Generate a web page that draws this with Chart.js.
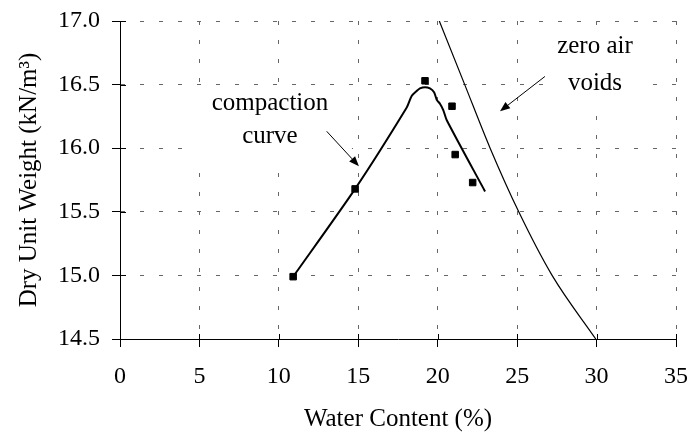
<!DOCTYPE html>
<html><head><meta charset="utf-8">
<script src="https://cdn.jsdelivr.net/npm/chart.js@4"></script>
<style>html,body{margin:0;padding:0;background:#fff}#wrap{width:690px;height:434px}</style>
</head><body><div id="wrap"><canvas id="c" width="690" height="434"></canvas></div>
<script>
// Measured compaction test points
const waterContent = [10.9, 14.8, 19.2, 20.9, 21.1, 22.2];
const dryUnitWeight = [14.99, 15.68, 16.53, 16.33, 15.95, 15.73];
// Fitted compaction curve
const curveW = [10.9, 14.8, 18.05, 18.36, 18.68, 18.88, 19.2, 19.51, 19.77, 19.94, 20.14, 20.35, 20.57, 22.98];
const curveGamma = [14.99, 15.68, 16.32, 16.41, 16.45, 16.47, 16.48, 16.47, 16.44, 16.38, 16.35, 16.30, 16.22, 15.66];
// Zero air voids line
const zavW = [20.1, 21.7, 23.3, 25.1, 27.2, 29.95];
const zavGamma = [17.0, 16.5, 16.0, 15.5, 15.0, 14.5];
// Tick labels
const xTicks = [0, 5, 10, 15, 20, 25, 30, 35];
const yTicks = [14.5, 15.0, 15.5, 16.0, 16.5, 17.0];
// Annotation labels
const labelCompaction = ['compaction', 'curve'];
const labelZav = ['zero air', 'voids'];

const FONT = '"Liberation Serif", "Times New Roman", serif';

const annotations = [
  {lines: labelCompaction, x: 9.44, y: [16.297, 16.038], box: [4.09, 16.47, 14.6, 15.81], arrow: [13.01, 16.133, 15.04, 15.858]},
  {lines: labelZav, x: 29.9, y: [16.745, 16.455], box: [26.94, 16.965, 33.49, 16.28], arrow: [26.75, 16.564, 23.92, 16.29]}
];

const toPts = (xs, ys) => xs.map((v, i) => ({x: v, y: ys[i]}));

const annoPlugin = {
  id: 'anno',
  beforeDatasetsDraw(chart) {
    const {ctx, scales: {x, y}} = chart;
    ctx.save();
    ctx.fillStyle = '#fff';
    annotations.forEach(a => {
      const x1 = x.getPixelForValue(a.box[0]), y1 = y.getPixelForValue(a.box[1]);
      const x2 = x.getPixelForValue(a.box[2]), y2 = y.getPixelForValue(a.box[3]);
      ctx.fillRect(x1, y1, x2 - x1, y2 - y1);
    });
    ctx.restore();
  },
  afterDatasetsDraw(chart) {
    const {ctx, scales: {x, y}} = chart;
    ctx.save();
    ctx.fillStyle = '#000';
    ctx.strokeStyle = '#000';
    ctx.font = '25px ' + FONT;
    ctx.textAlign = 'center';
    ctx.textBaseline = 'alphabetic';
    annotations.forEach(a => {
      a.lines.forEach((t, i) => ctx.fillText(t, x.getPixelForValue(a.x), y.getPixelForValue(a.y[i])));
      const sx = x.getPixelForValue(a.arrow[0]), sy = y.getPixelForValue(a.arrow[1]);
      const ex = x.getPixelForValue(a.arrow[2]), ey = y.getPixelForValue(a.arrow[3]);
      const ang = Math.atan2(ey - sy, ex - sx);
      const L = 10, W = 4;
      const bx = ex - L * Math.cos(ang), by = ey - L * Math.sin(ang);
      ctx.lineWidth = 1;
      ctx.beginPath(); ctx.moveTo(sx, sy); ctx.lineTo(bx, by); ctx.stroke();
      ctx.beginPath();
      ctx.moveTo(ex, ey);
      ctx.lineTo(bx + W * Math.sin(ang), by - W * Math.cos(ang));
      ctx.lineTo(bx - W * Math.sin(ang), by + W * Math.cos(ang));
      ctx.closePath(); ctx.fill();
    });
    ctx.restore();
  },
  afterDraw(chart) {
    const {ctx, scales: {x, y}, chartArea} = chart;
    ctx.save();
    ctx.strokeStyle = '#000';
    ctx.lineWidth = 1;
    ctx.beginPath();
    x.ticks.forEach(t => {
      const px = Math.round(x.getPixelForValue(t.value)) + 0.5;
      ctx.moveTo(px, chartArea.bottom - 5); ctx.lineTo(px, chartArea.bottom);
    });
    y.ticks.forEach(t => {
      const py = Math.round(y.getPixelForValue(t.value)) + 0.5;
      ctx.moveTo(chartArea.left, py); ctx.lineTo(chartArea.left + 6, py);
    });
    ctx.stroke();
    ctx.restore();
  }
};

const zeroPad = s => { s.paddingLeft = 0; s.paddingRight = 0; s.paddingTop = 0; s.paddingBottom = 0; };

new Chart(document.getElementById('c'), {
  type: 'scatter',
  data: {
    datasets: [
      {label: 'ZAV', data: toPts(zavW, zavGamma), showLine: true, borderColor: '#000', borderWidth: 1.2, pointRadius: 0, cubicInterpolationMode: 'monotone', fill: false},
      {label: 'Compaction curve', data: toPts(curveW, curveGamma), showLine: true, borderColor: '#000', borderWidth: 2, pointRadius: 0, tension: 0.25, fill: false},
      {label: 'Measured', data: toPts(waterContent, dryUnitWeight), showLine: false, pointStyle: 'rect', pointRadius: 4.6, backgroundColor: '#000', borderColor: '#000', borderWidth: 1}
    ]
  },
  options: {
    responsive: false, animation: false, devicePixelRatio: 1,
    layout: {padding: {top: 21, right: 14, left: 0, bottom: 0}},
    plugins: {legend: {display: false}, tooltip: {enabled: false}},
    scales: {
      x: {
        type: 'linear', min: 0, max: 35,
        afterBuildTicks: s => { s.ticks = xTicks.map(v => ({value: v})); },
        afterFit: s => { s.height = 95; zeroPad(s); },
        ticks: {font: {family: FONT, size: 24}, color: '#000', padding: 15, maxRotation: 0, autoSkip: false, callback: v => String(v)},
        grid: {color: '#666', lineWidth: 1, tickLength: 8, tickColor: '#000', tickWidth: 1, borderDash: [4, 15]},
        border: {display: true, color: '#000', width: 1, dash: [4, 15]},
        title: {display: true, text: 'Water Content (%)', font: {family: FONT, size: 25}, color: '#000', padding: {top: 0, bottom: 0}}
      },
      y: {
        type: 'linear', min: 14.5, max: 17.0,
        afterBuildTicks: s => { s.ticks = yTicks.map(v => ({value: v})); },
        afterFit: s => { s.width = 120; zeroPad(s); },
        ticks: {font: {family: FONT, size: 24}, color: '#000', padding: 12, autoSkip: false, callback: v => Number(v).toFixed(1)},
        grid: {color: '#666', lineWidth: 1, tickLength: 8, tickColor: '#000', tickWidth: 1, borderDash: [4, 15]},
        border: {display: true, color: '#000', width: 1, dash: [4, 15]},
        title: {display: true, text: 'Dry Unit Weight (kN/m³)', font: {family: FONT, size: 25}, color: '#000', padding: {top: 14, bottom: 0}}
      }
    }
  },
  plugins: [annoPlugin]
});
</script>
</body></html>
